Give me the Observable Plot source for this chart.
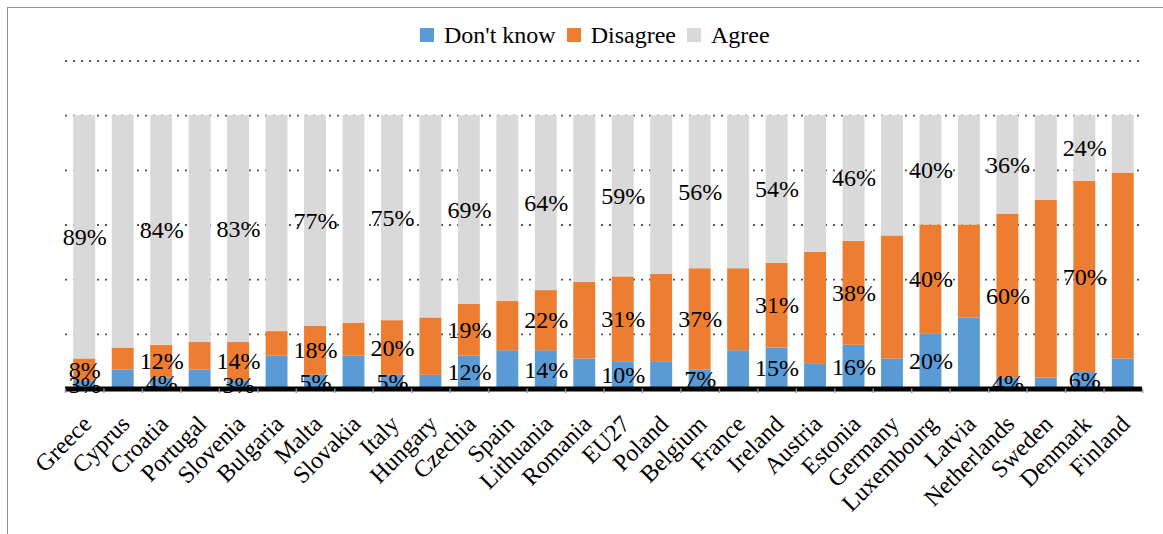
<!DOCTYPE html>
<html><head><meta charset="utf-8">
<script src="https://cdn.jsdelivr.net/npm/d3@7"></script>
<script src="https://cdn.jsdelivr.net/npm/@observablehq/plot@0.6"></script>
<style>
html,body{margin:0;padding:0;background:#fff;width:1163px;height:534px;overflow:hidden;font-family:"Liberation Serif","Times New Roman",Times,"DejaVu Serif",serif;}
#frame{position:absolute;left:7px;top:7px;width:1200px;height:600px;border:1px solid #8f8f8f;box-sizing:border-box;}
#legend{position:absolute;top:23px;left:420px;display:flex;align-items:center;height:24px;font-size:24px;line-height:24px;color:#000;}
#legend .sw{width:14px;height:14px;margin-right:10px;}
#legend .lab{margin-right:11px;}
#chart{position:absolute;top:48px;left:0;}
#chart svg, #chart svg text{font-family:"Liberation Serif","Times New Roman",Times,"DejaVu Serif",serif !important;}
</style>
</head><body>
<div id="frame"></div>
<div id="legend"></div>
<div id="chart"></div>
<script>
const categories = ["Greece","Cyprus","Croatia","Portugal","Slovenia","Bulgaria","Malta","Slovakia","Italy","Hungary","Czechia","Spain","Lithuania","Romania","EU27","Poland","Belgium","France","Ireland","Austria","Estonia","Germany","Luxembourg","Latvia","Netherlands","Sweden","Denmark","Finland"];
const dontKnow = [3,7,4,7,3,12,5,12,5,5,12,14,14,11,10,10,7,14,15,9,16,11,20,26,4,4,6,11];
const disagree = [8,8,12,10,14,9,18,12,20,21,19,18,22,28,31,32,37,30,31,41,38,45,40,34,60,65,70,68];
const agree = [89,85,84,83,83,79,77,76,75,74,69,68,64,61,59,58,56,56,54,50,46,44,40,40,36,31,24,21];
const labelled = ["Greece","Croatia","Slovenia","Malta","Italy","Czechia","Lithuania","EU27","Belgium","Ireland","Estonia","Luxembourg","Netherlands","Denmark"];
const seriesNames = ["Don't know","Disagree","Agree"];
const seriesColors = ["#5B9BD5","#ED7D31","#D9D9D9"];
const gridTicks = [20,40,60,80,100,120];

const seriesValues = [dontKnow, disagree, agree];
const rows = [];
categories.forEach((c, i) => {
  seriesNames.forEach((s, j) => rows.push({category: c, series: s, value: seriesValues[j][i], show: labelled.includes(c)}));
});

const font = "'Liberation Serif', 'Times New Roman', Times, 'DejaVu Serif', serif";
const W = 1163, ML = 65, MR = 21;
const halfStep = (W - ML - MR) / categories.length / 2;

const chart = Plot.plot({
  width: W,
  height: 486,
  marginTop: 12.5,
  marginBottom: 145.5,
  marginLeft: ML,
  marginRight: MR,
  style: {fontFamily: font, background: "transparent"},
  x: {domain: categories, paddingInner: 0.43, paddingOuter: 0.215, round: false, axis: null},
  y: {domain: [0, 120], axis: null},
  color: {domain: seriesNames, range: seriesColors},
  marks: [
    Plot.ruleY(gridTicks, {stroke: "#555", strokeWidth: 1.8, strokeDasharray: "2,6"}),
    Plot.barY(rows, Plot.stackY({x: "category", y: "value", z: "series", fill: "series", order: seriesNames})),
    Plot.text(rows, Plot.stackY({x: "category", y: "value", z: "series", order: seriesNames,
      text: d => d.show ? d.value + "%" : "", fontSize: 24, fill: "#000"})),
    Plot.ruleY([0], {stroke: "#000", strokeWidth: 5}),
    Plot.ruleX(categories, {x: d => d, y1: 0, y2: -1.6, dx: -halfStep, stroke: "#8c8c8c", strokeWidth: 1.5}),
    Plot.ruleX(categories.slice(-1), {x: d => d, y1: 0, y2: -1.6, dx: halfStep, stroke: "#8c8c8c", strokeWidth: 1.5}),
    Plot.text(categories, {x: d => d, y: 0, text: d => d, rotate: -45, textAnchor: "end", lineAnchor: "middle",
      dx: 2.5, dy: 31, fontSize: 24, fill: "#000"})
  ]
});
document.getElementById("chart").appendChild(chart);

const legend = document.getElementById("legend");
seriesNames.forEach((s, j) => {
  const sw = document.createElement("div"); sw.className = "sw"; sw.style.background = seriesColors[j];
  const lab = document.createElement("div"); lab.className = "lab"; lab.textContent = s;
  legend.appendChild(sw); legend.appendChild(lab);
});
</script>
</body></html>
